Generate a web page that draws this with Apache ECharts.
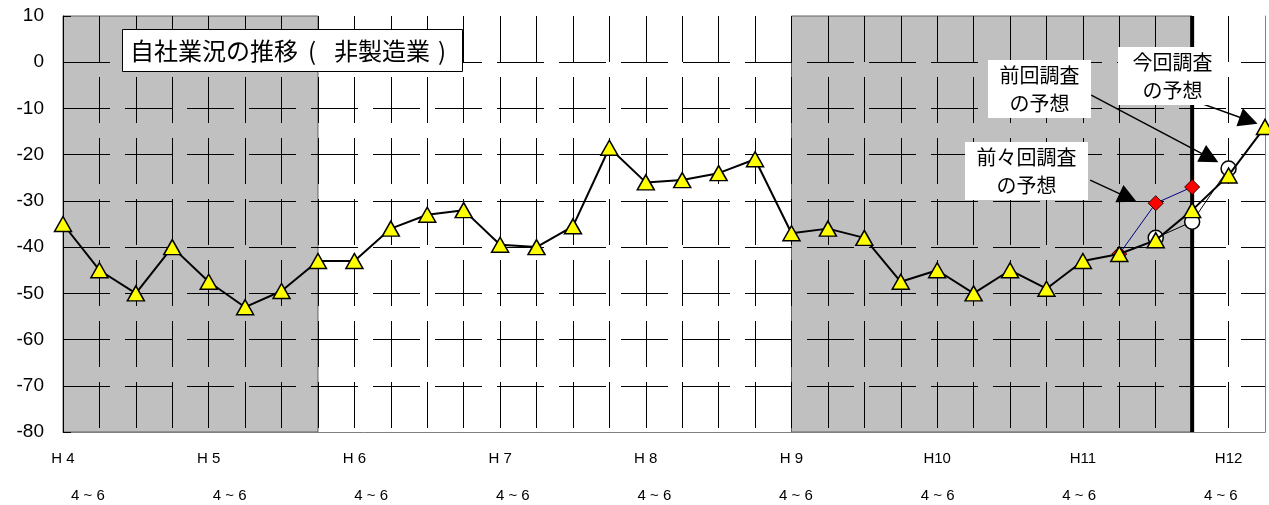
<!DOCTYPE html>
<html>
<head>
<meta charset="utf-8">
<script src="https://cdn.jsdelivr.net/npm/echarts@6/dist/echarts.min.js"></script>
<style>
  html, body { margin: 0; padding: 0; background: #fff; }
  #chart { width: 1269px; height: 505px; }
</style>
</head>
<body>
<div id="chart"></div>
<script>
// Heisei fiscal years and quarter names (tick labels)
const fiscalYears = ['H 4', 'H 5', 'H 6', 'H 7', 'H 8', 'H 9', 'H10', 'H11', 'H12'];
const quarterNames = ['4 ~ 6', '7 ~ 9', '10 ~ 12', '1 ~ 3'];

// Business conditions DI (non-manufacturing), one value per quarter from H4 4~6
const businessDI = [
  -35, -45, -50, -40, -47.5, -53, -49.5, -43,
  -43, -36, -33, -32, -39.5, -40, -35.5, -18.5,
  -26, -25.5, -24, -21, -37, -36, -38, -47.5,
  -45, -50, -45, -49, -43, -41.5, -38.5, -32,
  -24.5, -14
];

// Forecast made two surveys ago (starts at quarter index 29)
const forecastTwoAgoStart = 29;
const forecastTwoAgo = [-41.5, -30.5, -27];

// Forecast made by the previous survey (starts at quarter index 30)
const forecastPrevStart = 30;
const forecastPrev = [-38, -34.5, -23];

// Shaded periods, as [first quarter, last quarter]
const shadedPeriods = [[0, 7], [20, 31]];
// Last quarter with actual results
const latestActual = 31;

// Value axis range
const yMin = -80, yMax = 10, yStep = 10;

// Callout arrows: [from, to] in (quarter index, DI) units
const calloutArrows = [
  [[28.23, -7.1], [31.49, -20.7]],
  [[30.75, -7.5], [32.55, -12.6]],
  [[28.2, -25.5], [29.24, -29.3]]
];

// Category list: every quarter from H4 4~6 onward
const categories = [];
fiscalYears.forEach(y => quarterNames.forEach(q => categories.push(y + ' ' + q)));
categories.length = businessDI.length;

const latinFont = '"Liberation Sans", Arial, sans-serif';
const cjkFont = '"Noto Sans CJK JP", "Noto Sans", sans-serif';

// Rich styles for the two-line year labels; the quarter line drifts slightly per year
const labelRich = {
  y: { fontSize: 15, lineHeight: 37, fontFamily: latinFont, color: '#000' }
};
fiscalYears.forEach((_, k) => {
  const shift = 25 - 4.1 * k;
  labelRich['q' + k] = {
    fontSize: 15, lineHeight: 37, fontFamily: latinFont, color: '#000',
    padding: shift >= 0 ? [0, 0, 0, 2 * shift] : [0, -2 * shift, 0, 0]
  };
});

const chart = echarts.init(document.getElementById('chart'), null, { renderer: 'canvas' });

// white callout box with a centred two-line caption
function callout(x, y, w, h, text) {
  return [
    { type: 'rect', z: 100, shape: { x: x, y: y, width: w, height: h }, style: { fill: '#fff' } },
    {
      type: 'text', z: 101,
      style: {
        text: text, x: x + w / 2, y: y + h / 2,
        align: 'center', verticalAlign: 'middle', lineHeight: 28,
        font: '20px ' + cjkFont, fill: '#000'
      }
    }
  ];
}

const option = {
  animation: false,
  backgroundColor: '#fff',
  grid: { left: 63, right: 4, top: 16, bottom: 73, containLabel: false },
  xAxis: [
    {
      // quarter axis: labels and vertical gridlines
      type: 'category',
      data: categories,
      boundaryGap: false,
      z: 1,
      axisLine: { onZero: false, lineStyle: { color: '#808080', width: 1 } },
      axisTick: { show: false },
      axisLabel: {
        interval: 3,
        margin: 8,
        formatter: (value, index) => {
          const k = index / 4;
          return '{y|' + fiscalYears[k] + '}\n{q' + k + '|' + quarterNames[0] + '}';
        },
        rich: labelRich
      },
      splitLine: {
        show: true,
        interval: (index) => index !== 0 && index !== categories.length - 1,
        lineStyle: { color: '#000', width: 1, type: [46, 15] }
      }
    },
    {
      // numeric twin of the quarter axis used for plotting
      type: 'value',
      min: 0,
      max: categories.length - 1,
      show: false
    }
  ],
  yAxis: [
    {
      type: 'value',
      min: yMin,
      max: yMax,
      interval: yStep,
      z: 1,
      axisLine: { show: true, onZero: false, lineStyle: { color: '#000', width: 1 } },
      axisTick: { show: true, inside: true, length: 8, lineStyle: { color: '#000' } },
      axisLabel: { fontSize: 19, fontFamily: latinFont, color: '#000', margin: 19 },
      splitLine: {
        show: true,
        showMinLine: false,
        showMaxLine: false,
        lineStyle: { color: '#000', width: 1, type: [47, 15] }
      }
    },
    {
      type: 'value',
      position: 'right',
      min: yMin,
      max: yMax,
      interval: yStep,
      z: 1,
      axisLine: { show: true, onZero: false, lineStyle: { color: '#808080', width: 1 } },
      axisTick: { show: false },
      axisLabel: { show: false },
      splitLine: { show: false }
    }
  ],
  series: [
    {
      // shaded periods behind the grid
      type: 'custom',
      xAxisIndex: 1,
      yAxisIndex: 0,
      z: 0,
      silent: true,
      data: shadedPeriods,
      encode: { x: [0, 1] },
      renderItem: (params, api) => {
        const a = api.coord([api.value(0), yMax]);
        const b = api.coord([api.value(1), yMin]);
        return {
          type: 'rect',
          shape: { x: a[0], y: a[1], width: b[0] - a[0], height: b[1] - a[1] },
          style: { fill: '#c0c0c0', stroke: '#606060', lineWidth: 1 }
        };
      }
    },
    {
      // thick divider after the latest actual quarter
      type: 'custom',
      xAxisIndex: 1,
      yAxisIndex: 0,
      z: 0,
      silent: true,
      data: [[latestActual]],
      encode: { x: 0 },
      renderItem: (params, api) => {
        const a = api.coord([api.value(0), yMax]);
        const b = api.coord([api.value(0), yMin]);
        return {
          type: 'line',
          shape: { x1: a[0], y1: a[1], x2: b[0], y2: b[1] },
          style: { stroke: '#000', lineWidth: 4 }
        };
      }
    },
    {
      name: '前々回調査の予想',
      type: 'line',
      xAxisIndex: 1,
      yAxisIndex: 0,
      z: 2,
      data: forecastTwoAgo.map((v, i) => [forecastTwoAgoStart + i, v]),
      symbol: 'diamond',
      symbolSize: 15,
      itemStyle: { color: '#ff0000', borderColor: '#300000', borderWidth: 1 },
      lineStyle: { color: '#000080', width: 1 }
    },
    {
      name: '前回調査の予想',
      type: 'line',
      xAxisIndex: 1,
      yAxisIndex: 0,
      z: 2,
      data: forecastPrev.map((v, i) => [forecastPrevStart + i, v]),
      symbol: 'circle',
      symbolSize: 15,
      itemStyle: { color: '#ffffff', borderColor: '#000', borderWidth: 1.5 },
      lineStyle: { color: '#000', width: 1 }
    },
    {
      name: '自社業況',
      type: 'line',
      xAxisIndex: 1,
      yAxisIndex: 0,
      z: 3,
      data: businessDI.map((v, i) => [i, v]),
      symbol: 'triangle',
      symbolSize: [17, 15],
      itemStyle: { color: '#ffff00', borderColor: '#000', borderWidth: 1.5 },
      lineStyle: { color: '#000', width: 2 },
      markLine: {
        silent: true,
        symbol: ['none', 'triangle'],
        symbolSize: 19,
        label: { show: false },
        lineStyle: { color: '#000', width: 1.5, type: 'solid' },
        itemStyle: { color: '#000' },
        data: calloutArrows.map(a => [{ coord: a[0] }, { coord: a[1] }])
      }
    }
  ],
  graphic: [
    {
      type: 'rect', z: 100,
      shape: { x: 122.5, y: 29.5, width: 340, height: 42 },
      style: { fill: '#fff', stroke: '#000', lineWidth: 1 }
    },
    {
      type: 'text', z: 101,
      style: {
        text: '{t|自社業況の推移}{l|(}{t|非製造業}{r|)}',
        x: 130, y: 51,
        align: 'left', verticalAlign: 'middle',
        rich: {
          t: { fontSize: 24, fontFamily: cjkFont, fill: '#000' },
          l: { fontSize: 24, fontFamily: cjkFont, fill: '#000', padding: [0, 18, 0, 10] },
          r: { fontSize: 24, fontFamily: cjkFont, fill: '#000', padding: [0, 0, 0, 8] }
        }
      }
    }
  ]
    .concat(callout(988, 60, 103, 58, '前回調査\nの予想'))
    .concat(callout(1118, 47, 109, 58, '今回調査\nの予想'))
    .concat(callout(965, 142, 123, 58, '前々回調査\nの予想'))
};

chart.setOption(option);
</script>
</body>
</html>
